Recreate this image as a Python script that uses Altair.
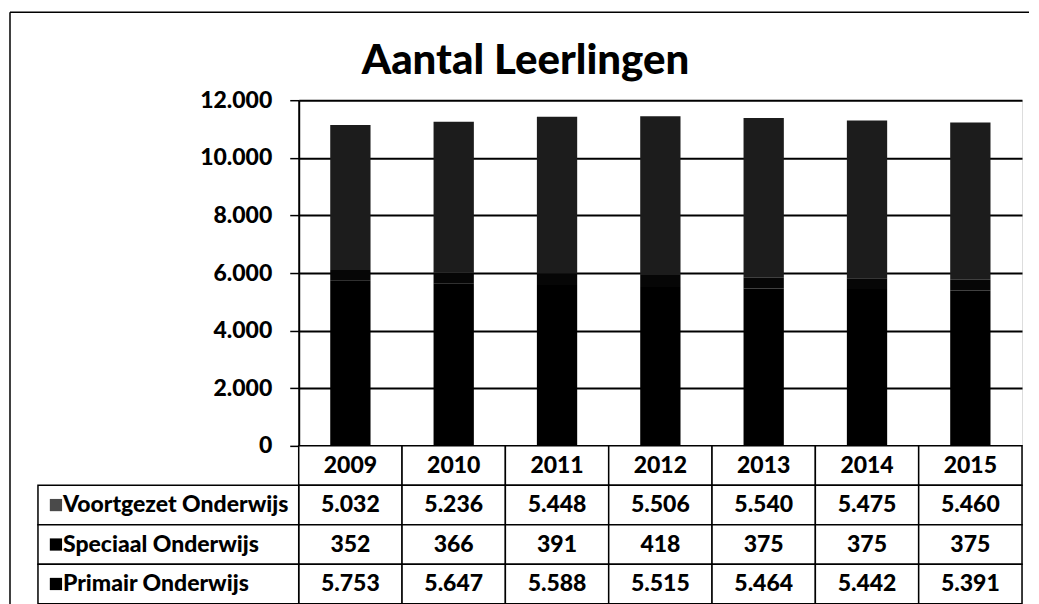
import altair as alt
import pandas as pd

years = ["2009", "2010", "2011", "2012", "2013", "2014", "2015"]
voortgezet = [5032, 5236, 5448, 5506, 5540, 5475, 5460]
speciaal = [352, 366, 391, 418, 375, 375, 375]
primair = [5753, 5647, 5588, 5515, 5464, 5442, 5391]
series = ["Voortgezet Onderwijs", "Speciaal Onderwijs", "Primair Onderwijs"]
bar_colors = ["#1c1c1c", "#060606", "#000000"]
square_colors = ["#4a4a4a", "#000000", "#000000"]
y_ticks = [0, 2000, 4000, 6000, 8000, 10000, 12000]

FONT = "Lato"
WEIGHT = 900
W = 724

rows = []
for s, vals, st in [("Voortgezet Onderwijs", voortgezet, 2),
                    ("Speciaal Onderwijs", speciaal, 1),
                    ("Primair Onderwijs", primair, 0)]:
    for y, v in zip(years, vals):
        rows.append({"year": y, "series": s, "value": v, "stackorder": st})
df = pd.DataFrame(rows)

fmt_expr = "replace(format(datum.value, ',d'), ',', '.')"

# ---------- bar chart ----------
bars = alt.Chart(df).mark_bar().encode(
    x=alt.X("year:O", sort=years, axis=None,
            scale=alt.Scale(paddingInner=0.61, paddingOuter=0.305)),
    y=alt.Y("value:Q", stack="zero",
            scale=alt.Scale(domain=[0, 12000], nice=False),
            axis=alt.Axis(values=y_ticks, title=None, labelExpr=fmt_expr,
                          labelFont=FONT, labelFontSize=23, labelFontWeight=WEIGHT,
                          labelColor="black", labelPadding=18,
                          domainColor="black", domainWidth=2,
                          tickColor="black", tickSize=9, tickWidth=1.5,
                          grid=True, gridColor="black", gridWidth=2)),
    color=alt.Color("series:N", scale=alt.Scale(domain=series, range=bar_colors), legend=None),
    order=alt.Order("stackorder:Q"),
)

one = pd.DataFrame({"a": [0]})
title = alt.Chart(one).mark_text(
    text="Aantal Leerlingen", font=FONT, fontSize=42, fontWeight=WEIGHT,
    color="black", align="center", baseline="alphabetic"
).encode(x=alt.value(227), y=alt.value(-26))

frame_top = alt.Chart(one).mark_rule(color="black", strokeWidth=1.5).encode(
    x=alt.value(-289), x2=alt.value(731), y=alt.value(-88))
frame_left = alt.Chart(one).mark_rule(color="black", strokeWidth=1.5).encode(
    x=alt.value(-289), y=alt.value(-88), y2=alt.value(506))

top = alt.layer(frame_top, frame_left, bars, title).properties(width=W, height=346)

# ---------- data table ----------
row_domain = ["header"] + series
hdr = pd.DataFrame({"year": years, "row": "header", "txt": years})
vals_df = df.assign(row=df["series"])

xs = alt.X("year:O", sort=years, axis=None, scale=alt.Scale(paddingInner=0, paddingOuter=0))
ys = alt.Y("row:N", sort=row_domain, axis=None,
           scale=alt.Scale(domain=row_domain, paddingInner=0, paddingOuter=0))

hdr_cells = alt.Chart(hdr).mark_rect(fill="white", stroke="black", strokeWidth=1.5).encode(x=xs, y=ys)
hdr_text = alt.Chart(hdr).mark_text(font=FONT, fontSize=23, fontWeight=WEIGHT, color="black").encode(
    x=xs, y=ys, text="txt:N")
val_cells = alt.Chart(vals_df).mark_rect(fill="white", stroke="black", strokeWidth=1.5).encode(x=xs, y=ys)
val_text = alt.Chart(vals_df).transform_calculate(
    lab=fmt_expr
).mark_text(font=FONT, fontSize=23, fontWeight=WEIGHT, color="black").encode(
    x=xs, y=ys, text="lab:N")

lab_df = pd.DataFrame({"row": series})
lab_cells = alt.Chart(lab_df).mark_rect(fill="white", stroke="black", strokeWidth=1.5).encode(
    x=alt.value(-261), x2=alt.value(0), y=ys)
lab_sq = alt.Chart(lab_df).mark_square(size=150, opacity=1).encode(
    x=alt.value(-243), y=ys,
    color=alt.Color("row:N", scale=alt.Scale(domain=series, range=square_colors), legend=None))
lab_text = alt.Chart(lab_df).mark_text(font=FONT, fontSize=23, fontWeight=WEIGHT, color="black",
                                       align="left").encode(
    x=alt.value(-236), y=ys, text="row:N")

table = alt.layer(hdr_cells, val_cells, lab_cells, hdr_text, val_text, lab_sq, lab_text).properties(
    width=W, height=158)

chart = alt.vconcat(top, table, spacing=0, bounds="flush").resolve_scale(color="independent").properties(
    padding={"left": 0, "top": 2, "right": 0, "bottom": 0}
).configure_view(stroke=None).configure(background="white")

chart.save("out.html", embed_options={"renderer": "svg", "actions": False})
